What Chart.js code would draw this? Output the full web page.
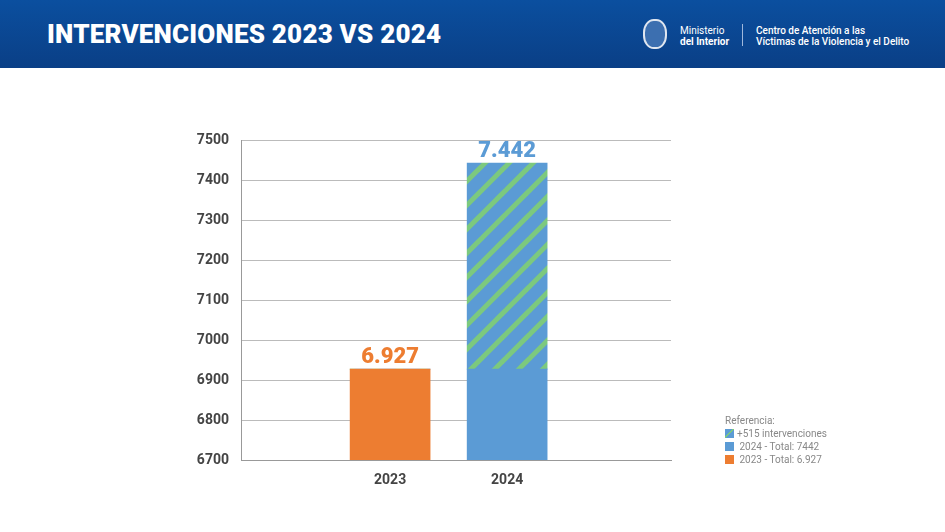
<!DOCTYPE html>
<html>
<head>
<meta charset="utf-8">
<script src="https://cdn.jsdelivr.net/npm/chart.js@4"></script>
<style>
  body { margin: 0; width: 945px; height: 532px; background: #fff; font-family: Roboto, sans-serif; overflow: hidden; position: relative; }
  .header { position: absolute; left: 0; top: 0; width: 945px; height: 68px; background: linear-gradient(180deg, #0b4f9f 0%, #0a3f86 100%); }
  .title { position: absolute; left: 47px; top: 19px; color: #fff; font-weight: 900; font-size: 26px; letter-spacing: 0.2px; }
  .logo { position: absolute; left: 643px; top: 19px; width: 24px; height: 30px; border-radius: 45%; border: 2px solid #dfe6f0; box-sizing: border-box; background: #3c6fb0; }
  .min { position: absolute; left: 680px; top: 25px; color: #fff; font-size: 10px; line-height: 11px; }
  .sep { position: absolute; left: 742px; top: 24px; width: 1px; height: 22px; background: #9fb8dc; }
  .cav { position: absolute; left: 756px; top: 25px; color: #fff; font-size: 10px; line-height: 11px; font-weight: 500; }
  .legend { position: absolute; left: 725px; top: 414px; font-size: 10px; color: #888; line-height: 13px; }
  .legend span { display: inline-block; width: 9px; height: 9px; margin-right: 3px; vertical-align: -1px; }
  #c { position: absolute; left: 0; top: 0; }
</style>
</head>
<body>
<div class="header">
  <div class="title">INTERVENCIONES 2023 VS 2024</div>
  <div class="logo"></div>
  <div class="min">Ministerio<br><b>del Interior</b></div>
  <div class="sep"></div>
  <div class="cav">Centro de Atención a las<br>Víctimas de la Violencia y el Delito</div>
</div>
<canvas id="c" width="945" height="532"></canvas>
<div class="legend">
  Referencia:<br>
  <span style="background: linear-gradient(135deg, #5b9bd5 40%, #7cc97e 40%, #7cc97e 55%, #5b9bd5 55%)"></span>+515 intervenciones<br>
  <span style="background:#5b9bd5"></span> 2024 - Total: 7442<br>
  <span style="background:#ed7d31"></span> 2023 - Total: 6.927
</div>
<script>
const years = ['2023', '2024'];
const baseValues = [6927, 6927];
const extraValues = [0, 515];
const totalLabels = ['6.927', '7.442'];
const yTicks = [6700, 6800, 6900, 7000, 7100, 7200, 7300, 7400, 7500];

// diagonal stripes for the increase
const pc = document.createElement('canvas');
pc.width = 24; pc.height = 24;
const p = pc.getContext('2d');
p.fillStyle = '#5b9bd5';
p.fillRect(0, 0, 24, 24);
p.strokeStyle = '#7cc97e';
p.lineWidth = 5;
for (let k = -24; k <= 24; k += 24) {
  p.beginPath(); p.moveTo(k - 8, 32); p.lineTo(k + 32, -8); p.stroke();
}
const hatch = p.createPattern(pc, 'repeat');

const labelPlugin = {
  id: 'totals',
  afterDatasetsDraw(chart) {
    const ctx = chart.ctx;
    const meta = chart.getDatasetMeta(1);
    ctx.save();
    ctx.font = '900 22px Roboto';
    ctx.textAlign = 'center';
    ctx.textBaseline = 'bottom';
    meta.data.forEach((bar, i) => {
      ctx.fillStyle = i === 0 ? '#ed7d31' : '#5b9bd5';
      ctx.fillText(totalLabels[i], bar.x, bar.y - 1);
    });
    ctx.restore();
  }
};

new Chart(document.getElementById('c'), {
  type: 'bar',
  data: {
    datasets: [
      { data: years.map((y, i) => ({ x: i + 1, y: baseValues[i] })), backgroundColor: ['#ed7d31', '#5b9bd5'], barThickness: 80, stack: 's' },
      { data: years.map((y, i) => ({ x: i + 1, y: extraValues[i] })), backgroundColor: hatch, barThickness: 80, stack: 's' }
    ]
  },
  options: {
    responsive: false,
    animation: false,
    layout: { padding: { top: 140, right: 274, bottom: 42, left: 171 } },
    plugins: { legend: { display: false }, tooltip: { enabled: false } },
    scales: {
      x: {
        type: 'linear', stacked: true, offset: false, min: -0.274, max: 3.4,
        afterBuildTicks: s => { s.ticks = [{ value: 1 }, { value: 2 }]; },
        afterFit: s => { s.height = 30; },
        ticks: { callback: v => years[v - 1], color: '#444', font: { family: 'Roboto', size: 14, weight: 'bold' }, padding: 4 },
        grid: { display: false, offset: false },
        border: { color: '#999' }
      },
      y: {
        stacked: true, min: 6700, max: 7500,
        afterBuildTicks: s => { s.ticks = yTicks.map(v => ({ value: v })); },
        afterFit: s => { s.width = 70; },
        ticks: { callback: v => String(v), color: '#444', font: { family: 'Roboto', size: 14, weight: 'bold' }, padding: 12 },
        grid: { color: '#bbb', drawTicks: false },
        border: { color: '#999' }
      }
    }
  },
  plugins: [labelPlugin]
});
</script>
</body>
</html>
